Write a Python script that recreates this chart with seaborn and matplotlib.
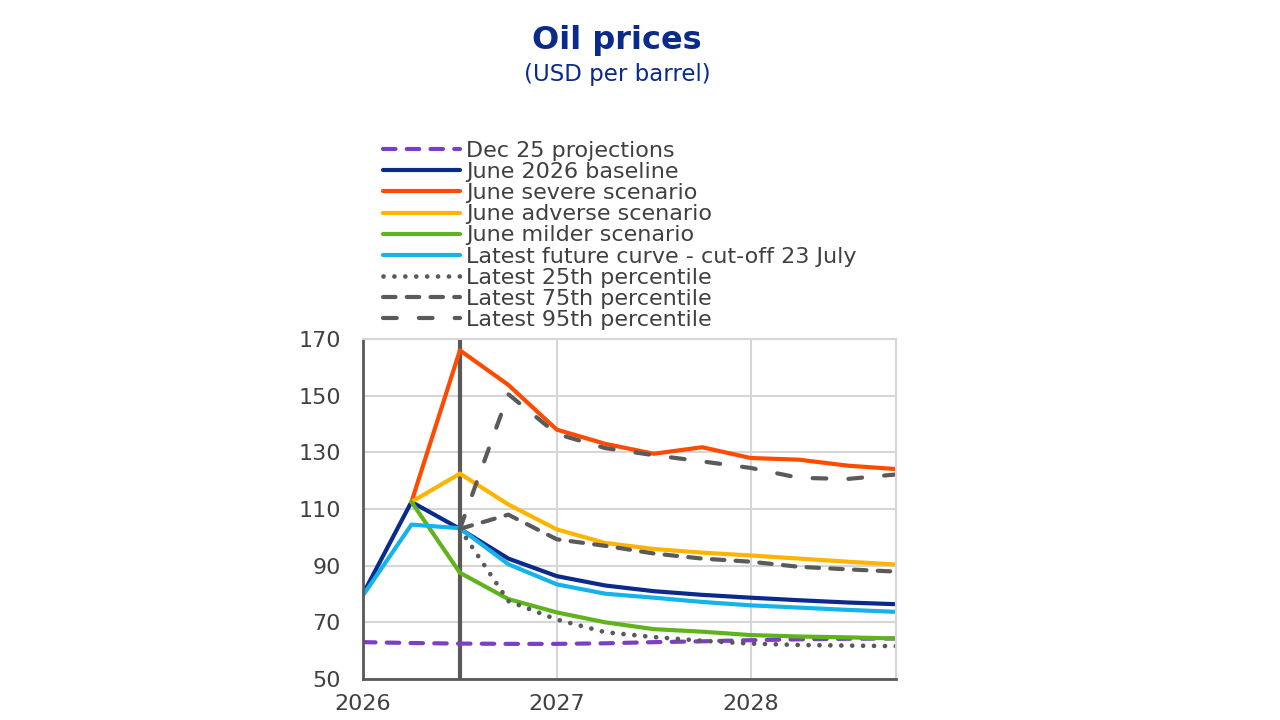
import numpy as np
import pandas as pd
import matplotlib
matplotlib.use('Agg')
import matplotlib.pyplot as plt
import seaborn as sns

# quarterly horizon, 2026Q1 - 2028Q4 (as fractional years)
quarters = [2026.0, 2026.25, 2026.5, 2026.75, 2027.0, 2027.25,
            2027.5, 2027.75, 2028.0, 2028.25, 2028.5, 2028.75]
nan = np.nan

dec25 = [63.0, 62.7, 62.5, 62.4, 62.4, 62.6, 63.0, 63.3, 63.7, 64.0, 64.2, 64.3]
baseline = [80.0, 112.5, 103.0, 92.5, 86.3, 83.0, 81.0, 79.7, 78.7, 77.8, 77.0, 76.4]
severe = [nan, 112.5, 166.0, 153.8, 138.0, 133.0, 129.5, 131.8, 128.0, 127.4, 125.3, 124.1]
adverse = [nan, 112.5, 122.5, 111.6, 102.8, 98.0, 95.9, 94.6, 93.6, 92.5, 91.4, 90.4]
milder = [nan, 112.5, 87.5, 78.2, 73.5, 70.0, 67.6, 66.7, 65.5, 65.0, 64.7, 64.3]
future = [79.5, 104.5, 103.2, 90.5, 83.4, 80.1, 78.7, 77.2, 76.0, 75.2, 74.4, 73.7]
p25 = [nan, nan, 103.0, 77.5, 71.0, 66.5, 64.8, 63.5, 62.5, 62.0, 61.8, 61.6]
p75 = [nan, nan, 103.0, 108.0, 99.3, 97.0, 94.3, 92.5, 91.4, 89.6, 88.7, 87.9]
p95 = [nan, nan, 103.0, 150.5, 136.5, 131.5, 129.0, 126.8, 124.5, 121.0, 120.6, 122.2]

cutoff = 2026.5
x_ticks = [2026, 2027, 2028]
y_ticks = [50, 70, 90, 110, 130, 150, 170]

# label, values, colour, linewidth, linestyle
series = [
    ('Dec 25 projections', dec25, '#7b3fc4', 3, (0, (3, 2.7))),
    ('June 2026 baseline', baseline, '#0a2a8c', 3, '-'),
    ('June severe scenario', severe, '#ff4b00', 3, '-'),
    ('June adverse scenario', adverse, '#ffb400', 3, '-'),
    ('June milder scenario', milder, '#5fb41e', 3, '-'),
    ('Latest future curve - cut-off 23 July', future, '#14b4ea', 3, '-'),
    ('Latest 25th percentile', p25, '#5a5a5a', 3.4, (0, (0.01, 2.3))),
    ('Latest 75th percentile', p75, '#5a5a5a', 3, (0, (3, 2.7))),
    ('Latest 95th percentile', p95, '#5a5a5a', 3, (0, (3.3, 5.3))),
]

sns.set_style('white')
plt.rcParams['font.family'] = ['DejaVu Sans']

grey_txt = '#404040'
dark = '#595959'
light = '#d6d6d6'

fig = plt.figure(figsize=(12.8, 7.2), dpi=100)
ax = fig.add_axes([363 / 1280, 1 - 679 / 720, (896 - 363) / 1280, (679 - 339) / 720])

ax.axvline(cutoff, color=dark, lw=3, zorder=1.8)

for label, vals, color, lw, ls in series:
    d = pd.DataFrame({'quarter': quarters, 'price': vals}).dropna()
    sns.lineplot(data=d, x='quarter', y='price', ax=ax, color=color, lw=lw,
                 linestyle=ls, label=label, dash_capstyle='round',
                 solid_capstyle='round', zorder=2)

ax.set_xlim(2026, 2028.75)
ax.set_ylim(50, 170)
ax.set_xticks(x_ticks)
ax.set_yticks(y_ticks)
ax.set_xlabel('')
ax.set_ylabel('')
ax.grid(True, color=light, lw=1.5, zorder=0)
ax.set_axisbelow(True)

for side in ['left', 'bottom']:
    ax.spines[side].set_color(dark)
    ax.spines[side].set_linewidth(2)
for side in ['top', 'right']:
    ax.spines[side].set_color(light)
    ax.spines[side].set_linewidth(1.5)

ax.tick_params(axis='x', direction='out', length=4.5, width=1.5, color=dark,
               pad=6.5, labelsize=16, labelcolor=grey_txt)
ax.tick_params(axis='y', direction='in', length=6, width=1.5, color=dark,
               pad=16, labelsize=16, labelcolor=grey_txt)

handles, labels = ax.get_legend_handles_labels()
ax.get_legend().remove()
fig.legend(handles, labels, loc='upper left',
           bbox_to_anchor=(383 / 1280, 1 - 141 / 720),
           frameon=False, fontsize=16, labelcolor=grey_txt,
           handlelength=3.47, handletextpad=0.27, labelspacing=0.05,
           borderpad=0, borderaxespad=0)

title_color = '#0a2a8c'
fig.text(617 / 1280, 1 - 49 / 720, 'Oil prices', ha='center', va='baseline',
         fontsize=23, fontweight='bold', color=title_color)
fig.text(617 / 1280, 1 - 81 / 720, '(USD per barrel)', ha='center', va='baseline',
         fontsize=16.5, color=title_color)

fig.savefig('out.png', dpi=100)
plt.close(fig)
